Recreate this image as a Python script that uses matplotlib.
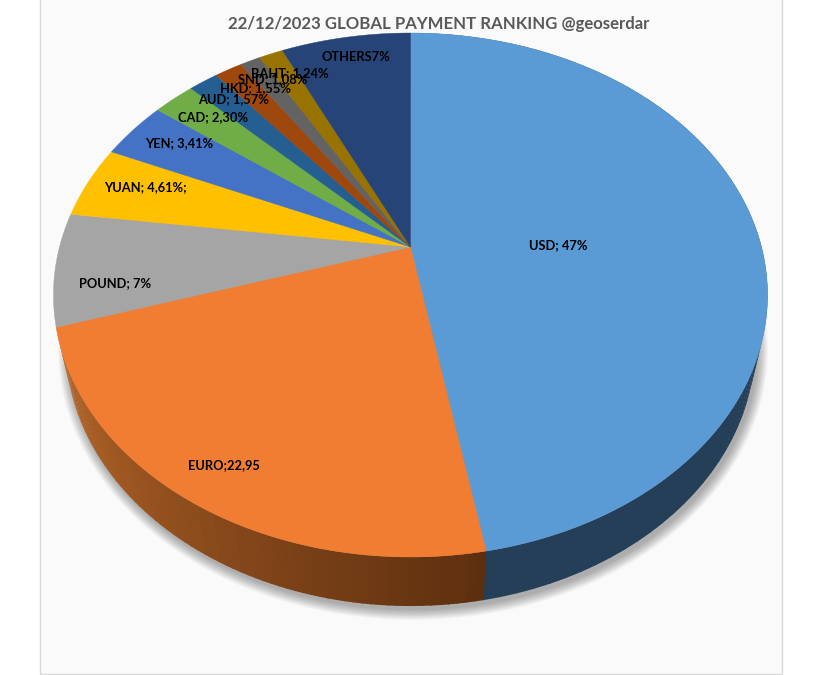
"""Tilted pie of the global payment ranking, drawn from projected wedges."""

import matplotlib.pyplot as plt
import numpy as np
from matplotlib.colors import to_rgb
from matplotlib.patches import Ellipse, Polygon, Rectangle

plt.rcParams["font.family"] = ["Lato", "DejaVu Sans"]

TITLE = "22/12/2023 GLOBAL PAYMENT RANKING @geoserdar"
currencies = ["USD", "EURO", "POUND", "YUAN", "YEN", "CAD", "AUD", "HKD", "SND", "BAHT", "OTHERS"]
shares = [47.2, 23.0, 6.96, 4.5, 3.65, 2.25, 1.6, 1.5, 1.1, 1.3, 7.0]
labels = [
    "USD; 47%",
    "EURO;22,95",
    "POUND; 7%",
    "YUAN; 4,61%;",
    "YEN; 3,41%",
    "CAD; 2,30%",
    "AUD; 1,57%",
    "HKD; 1,55%",
    "SND; 1,08%",
    "BAHT; 1,24%",
    "OTHERS7%",
]
colors = [
    "#5B9BD5", "#F07D31", "#A5A5A5", "#FFC000", "#4472C4", "#70AD47",
    "#255E91", "#9E480E", "#636363", "#997300", "#264478",
]

# Perspective of the disc: the apex sits above the middle of the ellipse
K = 0.1832
CX = 410.5
TOP = (351.0, 247.0, -207.95)
BOTTOM = (339.0, 297.2, -197.8)


def project(theta, plane):
    s, p, q = plane
    u, v = np.sin(theta), np.cos(theta)
    w = 1 + K * v
    return np.column_stack([CX + s * u / w, (p + q * v) / w])


def arc(start, end, plane):
    n = max(int(abs(end - start) * 120), 4)
    return project(np.linspace(start, end, n), plane)


def draw_wall(ax, start, end, left_color, right_color):
    # left_color applies to the far end of the wall, right_color to the near end
    edges = np.linspace(start, end, 70)
    c0, c1 = np.array(to_rgb(left_color)), np.array(to_rgb(right_color))
    for i in range(len(edges) - 1):
        t = i / (len(edges) - 2)
        a, b = edges[i], edges[i + 1] + 0.004
        pts = np.vstack([arc(a, b, TOP), arc(b, a, BOTTOM)])
        ax.add_patch(Polygon(pts, closed=True, fc=c0 * t + c1 * (1 - t), ec="none", zorder=3))


def main():
    fig = plt.figure(figsize=(8.39, 6.75), dpi=100)
    ax = fig.add_axes([0, 0, 1, 1])
    ax.set_xlim(0, 839)
    ax.set_ylim(675, 0)
    ax.axis("off")

    ax.add_patch(Rectangle((40, -2), 742, 676, fc="#FAFAFA", ec="#D9D9D9", lw=1, zorder=0))

    # Soft shadow under the pie
    for grow in np.linspace(10, 0, 14):
        ax.add_patch(Ellipse((413, 349), 2 * (345 + grow), 2 * (261 + grow), fc="#000000",
                             alpha=0.022, ec="none", zorder=1))

    fractions = np.array(shares) / sum(shares)
    bounds = np.concatenate([[0], np.cumsum(fractions)]) * 2 * np.pi

    draw_wall(ax, bounds[0], bounds[1], "#243F57", "#243F57")
    draw_wall(ax, bounds[1], bounds[2], "#B9682A", "#5E2F0F")

    for i, color in enumerate(colors):
        pts = np.vstack([[[CX, TOP[1]]], arc(bounds[i], bounds[i + 1], TOP)])
        ax.add_patch(Polygon(pts, closed=True, fc=color, ec=color, lw=0.3, zorder=4))

    label_pos = [
        (558, 245), (224, 465), (115, 283), (145, 187), (179, 143), (213, 117),
        (234, 99.5), (256, 88), (273, 79), (290, 73), (356, 57),
    ]
    for text, (x, y) in zip(labels, label_pos):
        ax.text(x, y, text, ha="center", va="center", fontsize=9.3, fontweight="bold",
                color="#000000", zorder=5)

    ax.text(439, 24, TITLE, ha="center", va="center", fontsize=12.1, fontweight="bold",
            color="#595959", zorder=5)

    fig.savefig("out.png", dpi=100)
    plt.close(fig)


if __name__ == "__main__":
    main()
